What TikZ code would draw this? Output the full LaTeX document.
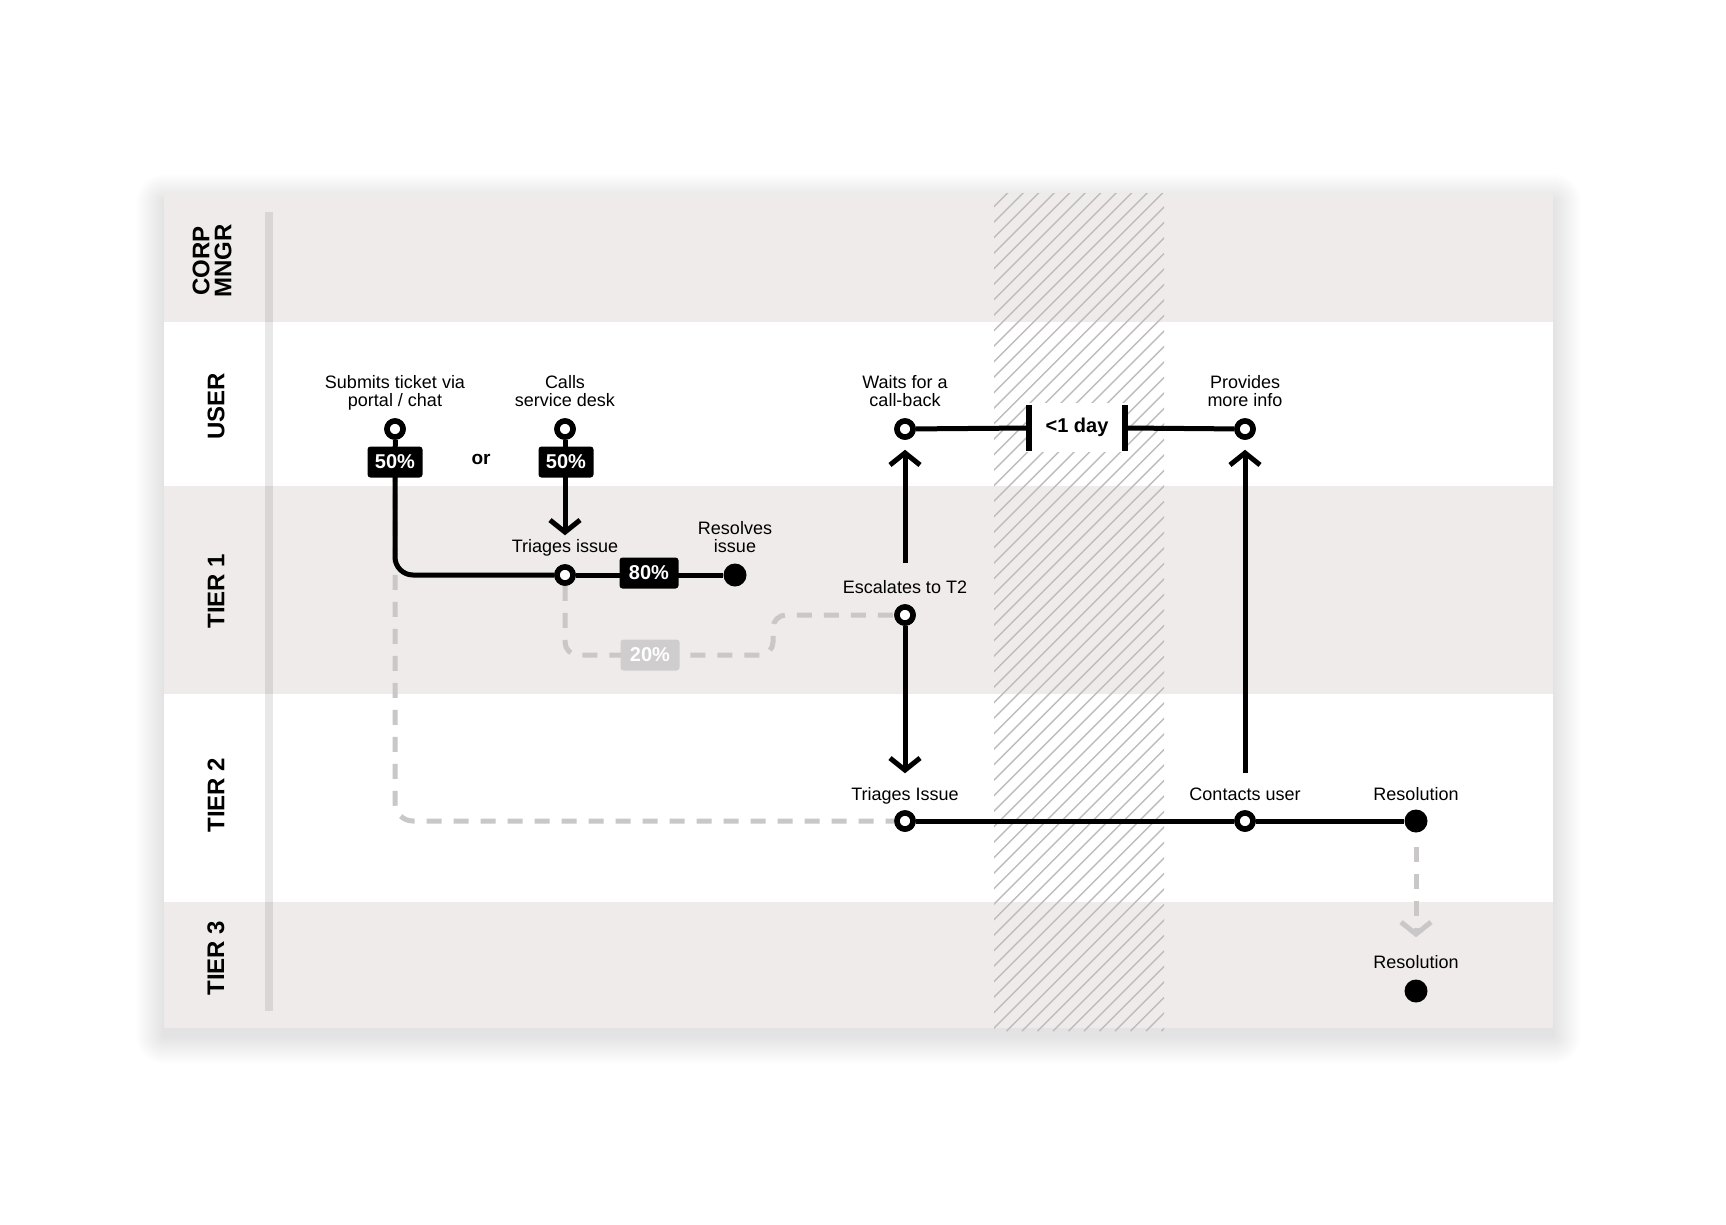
\documentclass[tikz,border=0pt]{standalone}
\usepackage{fontspec}
\setmainfont{Liberation Sans}
\usetikzlibrary{arrows.meta}
\definecolor{lanebg}{HTML}{EFEBEA}
\definecolor{dashgray}{HTML}{C9C7C7}
\definecolor{hatchgray}{HTML}{BEBCBC}
\definecolor{pctgray}{HTML}{CFCDCD}
\begin{document}
\begin{tikzpicture}[x=1pt,y=-1pt,
  lbl/.style={font=\fontsize{18}{18}\selectfont, align=center, inner sep=0pt, text depth=4pt, anchor=south},
  lane/.style={font=\fontsize{24}{22}\selectfont\bfseries, rotate=90, align=center, inner sep=0pt},
  open/.style={circle, draw=black, line width=5.5pt, fill=white, minimum size=16pt, inner sep=0pt},
  full/.style={circle, fill=black, minimum size=23pt, inner sep=0pt},
  pct/.style={fill=black, text=white, rounded corners=3pt, font=\fontsize{20}{20}\selectfont\bfseries, minimum width=55pt, minimum height=31pt, inner sep=0pt},
  flow/.style={line width=5pt, draw=black},
  ghost/.style={line width=5pt, draw=dashgray, dash pattern=on 15pt off 12pt},
  chev/.style={-{Straight Barb[length=12pt,width=30pt,sharp]}},
  tick/.style={line width=6pt, draw=black},
]
\useasboundingbox (0,0) rectangle (1726,1224);
\fill[white] (0,0) rectangle (1726,1224);
% soft shadow of the panel
\foreach \i in {1,...,28}
  \fill[black, opacity=0.005, rounded corners={\i*1pt}] ({164-\i},{194-\i+8}) rectangle ({1553+\i},{1028+\i+8});
\fill[white] (164,194) rectangle (1553,1028);
\fill[lanebg] (164,194) rectangle (1553,322);
\fill[lanebg] (164,486) rectangle (1553,694);
\fill[lanebg] (164,902) rectangle (1553,1028);
\fill[black, opacity=0.09] (265,212) rectangle (273,1011);
% lane labels
\node[lane] (lcorp) at (212,261) {CORP\\MNGR};
\node[lane] (luser) at (216,406) {USER};
\node[lane] (lt1) at (216,591) {TIER 1};
\node[lane] (lt2) at (216,795) {TIER 2};
\node[lane] (lt3) at (216,958) {TIER 3};
% hatch band
\begin{scope}
\clip (994,193) rectangle (1164,1031);
\foreach \k in {0,...,66} \draw[hatchgray, line width=1.4pt] ({994-840+\k*15.5},1031) -- ++(840,-840);
\end{scope}
% nodes
\node[open] (sub) at (395,429) {};
\node[open] (call) at (565,429) {};
\node[open] (tri1) at (565,575) {};
\node[full] (res1) at (735,575) {};
\node[open] (esc) at (905,615) {};
\node[open] (wait) at (905,429) {};
\node[open] (prov) at (1245,429) {};
\node[open] (tri2) at (905,821) {};
\node[open] (cont) at (1245,821) {};
\node[full] (res2) at (1416,821) {};
\node[full] (res3) at (1416,991) {};
\coordinate (bendA) at (773,655);
\coordinate (bendB) at (773,615);
\coordinate (tkL) at (1029,428);
\coordinate (tkR) at (1125,428);
\coordinate (subB) at (395,446);
\coordinate (callB) at (565,446);
% ghost (dashed) connectors
\draw[ghost, rounded corners=18pt] (sub) |- (tri2);
\draw[ghost, rounded corners=13pt] (tri1) |- (bendA) -- (bendB) -- (esc);
\draw[ghost, chev, shorten <=14pt, shorten >=42pt] (res2) -- (res3);
% solid connectors
\draw[flow] (sub) -- (subB);
\draw[flow, rounded corners=18pt] (subB) |- (tri1);
\draw[flow] (call) -- (callB);
\draw[flow, chev, shorten >=29pt] (callB) -- (tri1);
\draw[flow] (tri1) -- (res1);
\draw[flow, chev, shorten <=41pt, shorten >=10pt] (esc) -- (wait);
\draw[flow, chev, shorten >=37pt] (esc) -- (tri2);
\draw[flow, chev, shorten <=37pt, shorten >=10pt] (cont) -- (prov);
\draw[flow] (tri2) -- (cont);
\draw[flow] (cont) -- (res2);
\draw[flow] (wait) -- (tkL);
\draw[flow] (tkR) -- (prov);
% redraw nodes on top
\node[open] (subT) at (sub) {};
\node[open] (callT) at (call) {};
\node[open] (tri1T) at (tri1) {};
\node[open] (escT) at (esc) {};
\node[open] (waitT) at (wait) {};
\node[open] (provT) at (prov) {};
\node[open] (tri2T) at (tri2) {};
\node[open] (contT) at (cont) {};
% percent boxes
\node[pct] (p50a) at (395,462) {50\%};
\node[pct] (p50b) at (566,462) {50\%};
\node[pct, minimum width=59pt] (p80) at (649,573) {80\%};
\node[pct, fill=pctgray, minimum width=59pt] (p20) at (650,655) {20\%};
\node[font=\fontsize{19}{19}\selectfont\bfseries, inner sep=0pt] (or) at (481,459) {or};
% day box
\node[fill=white, minimum width=100pt, minimum height=49pt, inner sep=0pt, font=\fontsize{20}{20}\selectfont\bfseries] (day) at (1077,427) {<1 day};
\draw[tick] (1029,405) -- (1029,451);
\draw[tick] (1125,405) -- (1125,451);
% labels
\node[lbl] (lsub) at (395,411) {Submits ticket via\\portal / chat};
\node[lbl] (lcall) at (565,411) {Calls\\service desk};
\node[lbl] (lwait) at (905,411) {Waits for a\\call-back};
\node[lbl] (lprov) at (1245,411) {Provides\\more info};
\node[lbl] (ltri1) at (565,557) {Triages issue};
\node[lbl] (lres1) at (735,557) {Resolves\\issue};
\node[lbl] (lesc) at (905,598) {Escalates to T2};
\node[lbl] (ltri2) at (905,805) {Triages Issue};
\node[lbl] (lcont) at (1245,805) {Contacts user};
\node[lbl] (lres2) at (1416,805) {Resolution};
\node[lbl] (lres3) at (1416,973) {Resolution};
\end{tikzpicture}
\end{document}
